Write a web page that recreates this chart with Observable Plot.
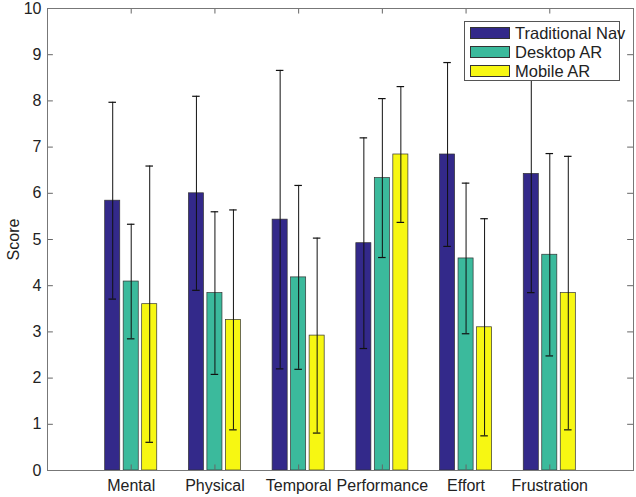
<!DOCTYPE html>
<html>
<head>
<meta charset="utf-8">
<script src="https://cdn.jsdelivr.net/npm/d3@7"></script>
<script src="https://cdn.jsdelivr.net/npm/@observablehq/plot@0.6"></script>
<style>
  body { margin: 0; background: #fff; }
  #wrap { position: relative; width: 636px; height: 497px; font-family: "Liberation Sans", Arial, sans-serif; }
  #legend { position: absolute; left: 464px; top: 21px; width: 156px; height: 60px; background: #fff; border: 1px solid #555; box-sizing: border-box; }
  .row { position: absolute; left: 5px; height: 14px; display: flex; align-items: center; font-size: 16.5px; color: #222; white-space: nowrap; }
  .sw { width: 40px; height: 12px; border: 1px solid #333; box-sizing: border-box; margin-right: 5px; }
</style>
</head>
<body>
<div id="wrap"></div>
<script>
const categories = ["Mental", "Physical", "Temporal", "Performance", "Effort", "Frustration"];
const seriesNames = ["Traditional Nav", "Desktop AR", "Mobile AR"];
const seriesColors = ["#33298a", "#3bba9c", "#f7f712"];
const tradMean = [5.84, 6.00, 5.43, 4.92, 6.84, 6.42];
const tradSD   = [2.13, 2.10, 3.23, 2.28, 1.99, 2.57];
const deskMean = [4.09, 3.84, 4.18, 6.33, 4.59, 4.67];
const deskSD   = [1.24, 1.76, 1.99, 1.72, 1.63, 2.19];
const mobMean  = [3.60, 3.26, 2.92, 6.84, 3.10, 3.84];
const mobSD    = [2.99, 2.38, 2.11, 1.47, 2.35, 2.96];
const yTicks = [0, 1, 2, 3, 4, 5, 6, 7, 8, 9, 10];

const means = [tradMean, deskMean, mobMean];
const sds = [tradSD, deskSD, mobSD];
const groupOffset = 0.221, halfBar = 0.09, halfCap = 0.045;

const rows = [];
seriesNames.forEach((s, si) => {
  categories.forEach((c, ci) => {
    const xc = ci + 1 + (si - 1) * groupOffset;
    rows.push({series: s, color: seriesColors[si], xc, x1: xc - halfBar, x2: xc + halfBar,
      mean: means[si][ci], lo: means[si][ci] - sds[si][ci], hi: means[si][ci] + sds[si][ci]});
  });
});
const catIdx = categories.map((c, i) => i + 1);

const tickLen = 0.07, tickLenY = 0.12;
const chart = Plot.plot({
  width: 636, height: 497,
  marginLeft: 47, marginRight: 3, marginTop: 8, marginBottom: 27,
  style: {fontFamily: "'Liberation Sans', Arial, sans-serif", fontSize: "16px", color: "#222", background: "#fff"},
  x: {type: "linear", domain: [0, 7]},
  y: {domain: [0, 10]},
  marks: [
    Plot.rect(rows, {x1: "x1", x2: "x2", y1: 0, y2: "mean", fill: "color", stroke: "#333", strokeWidth: 0.7}),
    Plot.ruleX(rows, {x: "xc", y1: "lo", y2: "hi", stroke: "#111", strokeWidth: 1}),
    Plot.ruleY(rows, {y: "lo", x1: d => d.xc - halfCap, x2: d => d.xc + halfCap, stroke: "#111", strokeWidth: 1.2}),
    Plot.ruleY(rows, {y: "hi", x1: d => d.xc - halfCap, x2: d => d.xc + halfCap, stroke: "#111", strokeWidth: 1.2}),
    Plot.ruleY(yTicks, {y: d => d, x1: 0, x2: tickLen, stroke: "#666"}),
    Plot.ruleY(yTicks, {y: d => d, x1: 7 - tickLen, x2: 7, stroke: "#666"}),
    Plot.ruleX(catIdx, {x: d => d, y1: 0, y2: tickLenY, stroke: "#666"}),
    Plot.ruleX(catIdx, {x: d => d, y1: 10 - tickLenY, y2: 10, stroke: "#666"}),
    Plot.frame({stroke: "#777", strokeWidth: 1}),
    Plot.axisY({ticks: yTicks, tickSize: 0, tickPadding: 6, fontSize: 16, label: "Score", labelAnchor: "center", labelOffset: 40, labelArrow: "none"}),
    Plot.axisX({ticks: catIdx, tickFormat: d => categories[d - 1], tickSize: 0, tickPadding: 9, fontSize: 16, label: null})
  ]
});
const wrap = document.getElementById("wrap");
wrap.appendChild(chart);

const legend = document.createElement("div");
legend.id = "legend";
seriesNames.forEach((s, i) => {
  const r = document.createElement("div");
  r.className = "row";
  r.style.top = (4 + i * 19) + "px";
  const sw = document.createElement("div");
  sw.className = "sw";
  sw.style.background = seriesColors[i];
  r.appendChild(sw);
  r.appendChild(document.createTextNode(s));
  legend.appendChild(r);
});
wrap.appendChild(legend);
</script>
</body>
</html>
